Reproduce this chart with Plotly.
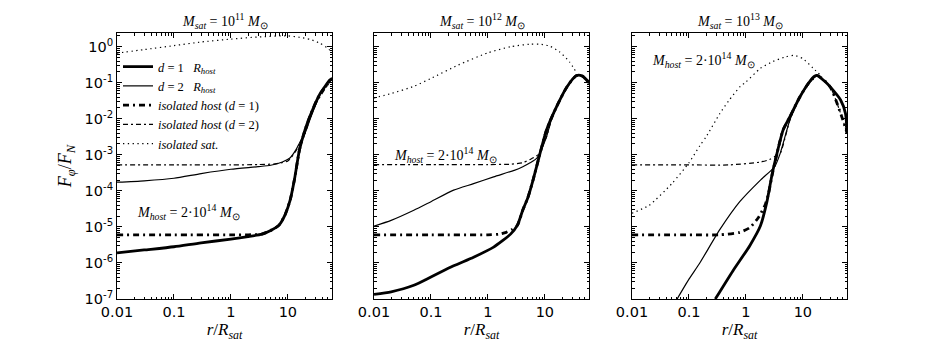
import numpy as np
import plotly.graph_objects as go

# values, F_phi/F_N given as log10
# panel 1: M_sat = 1e11
p1_sat_r = [0.01, 0.03, 0.1, 0.3, 1, 3, 10, 16, 25, 36, 48, 60]
p1_sat_f = [-0.18, -0.08, 0.03, 0.13, 0.21, 0.27, 0.3, 0.26, 0.2, 0.1, -0.02, -0.16]
p1_d1_r = [0.01, 0.03, 0.1, 0.3, 1, 2, 3.5, 5, 7, 9, 11, 13, 16, 20, 25, 36, 55, 60]
p1_d1_f = [-5.72, -5.64, -5.55, -5.44, -5.34, -5.27, -5.2, -5.1, -4.95, -4.65, -4.25, -3.7, -2.86, -2.31, -1.89, -1.33, -0.92, -0.88]
p1_d2_r = [0.01, 0.03, 0.1, 0.3, 1, 3, 5, 8, 11, 14, 16, 20, 25, 36, 55, 60]
p1_d2_f = [-3.76, -3.72, -3.65, -3.52, -3.4, -3.33, -3.29, -3.2, -3.08, -2.85, -2.67, -2.4, -1.98, -1.36, -0.92, -0.88]
p1_h1_r = [0.01, 0.1, 1, 2, 3.5, 5, 7, 9, 11, 13, 16, 20, 25, 36, 60]
p1_h1_f = [-5.22, -5.22, -5.22, -5.22, -5.2, -5.1, -4.95, -4.65, -4.25, -3.7, -2.86, -2.31, -1.89, -1.33, -0.88]
p1_h2_r = [0.01, 0.1, 1, 3, 6, 10, 14, 20, 30, 60]
p1_h2_f = [-3.28, -3.28, -3.28, -3.27, -3.25, -3.17, -2.88, -2.4, -1.62, -0.88]

# panel 2: M_sat = 1e12
p2_sat_r = [0.01, 0.02, 0.05, 0.1, 0.3, 1, 2.5, 5.5, 8, 12, 18, 27, 36]
p2_sat_f = [-1.42, -1.3, -1.1, -0.88, -0.51, -0.17, 0.0, 0.07, 0.07, 0.02, -0.14, -0.42, -0.72]
p2_d1_r = [0.01, 0.02, 0.05, 0.1, 0.25, 0.56, 1.26, 2.5, 3.3, 4.1, 5, 6.2, 8.1, 10.7, 16, 24.5, 36, 45, 60]
p2_d1_f = [-6.87, -6.8, -6.62, -6.39, -6.08, -5.84, -5.56, -5.2, -4.95, -4.53, -4.2, -3.7, -3.0, -2.31, -1.67, -1.11, -0.8, -0.81, -1.0]
p2_d2_r = [0.01, 0.02, 0.05, 0.1, 0.25, 0.56, 1.26, 2.9, 4.1, 5.5, 7.2, 8.1, 10.7, 13, 16, 24.5, 36, 45, 60]
p2_d2_f = [-4.98, -4.82, -4.54, -4.3, -3.98, -3.8, -3.61, -3.43, -3.33, -3.22, -3.1, -2.96, -2.5, -2.03, -1.67, -1.13, -0.8, -0.82, -1.0]
p2_h1_r = [0.01, 0.1, 1, 1.6, 2.1, 2.6, 3.3, 4.1, 5, 6.2, 8.1, 10.7, 16, 24.5, 36, 45, 60]
p2_h1_f = [-5.22, -5.22, -5.22, -5.2, -5.15, -5.08, -4.95, -4.53, -4.2, -3.7, -3.0, -2.31, -1.67, -1.11, -0.8, -0.81, -1.0]
p2_h2_r = [0.01, 0.1, 1, 2.5, 4, 5.5, 7.5, 10.7, 13, 16, 24.5, 36, 45, 60]
p2_h2_f = [-3.27, -3.27, -3.27, -3.26, -3.22, -3.13, -3.0, -2.5, -2.03, -1.67, -1.13, -0.8, -0.82, -1.0]

# panel 3: M_sat = 1e13
p3_sat_r = [0.01, 0.02, 0.05, 0.1, 0.155, 0.2, 0.35, 0.5, 0.8, 1, 1.8, 3, 5, 7, 10, 15, 20]
p3_sat_f = [-4.62, -4.4, -3.8, -3.22, -2.75, -2.5, -1.85, -1.5, -1.1, -0.98, -0.6, -0.41, -0.28, -0.24, -0.33, -0.59, -0.78]
p3_d1_r = [0.29, 0.59, 1.17, 1.8, 2.34, 2.9, 3.5, 4.5, 5.9, 8.9, 13, 16, 18, 25, 30, 46, 56, 60]
p3_d1_f = [-7.0, -6.22, -5.52, -4.97, -4.3, -3.52, -2.97, -2.31, -1.95, -1.39, -0.98, -0.82, -0.8, -0.98, -1.11, -1.48, -1.85, -2.4]
p3_d2_r = [0.062, 0.1, 0.155, 0.35, 0.78, 1.8, 3.2, 4, 5.9, 8.9, 13, 16, 18, 25, 30, 46, 56, 60]
p3_d2_f = [-7.0, -6.45, -6.0, -5.07, -4.3, -3.7, -3.33, -2.96, -2.04, -1.39, -1.01, -0.83, -0.8, -0.98, -1.11, -1.48, -1.85, -2.4]
p3_h1_r = [0.01, 0.1, 0.35, 0.78, 1.17, 1.66, 2.2, 2.5, 2.9, 3.5, 4.5, 5.9, 8.9, 13, 18, 30, 60]
p3_h1_f = [-5.22, -5.22, -5.22, -5.15, -5.02, -4.74, -4.37, -4.07, -3.55, -2.97, -2.31, -1.95, -1.39, -0.98, -0.8, -1.11, -2.4]
p3_h2_r = [0.01, 0.1, 0.5, 1.8, 2.6, 3.4, 4, 5.9, 8.9, 13, 18, 30, 60]
p3_h2_f = [-3.28, -3.28, -3.28, -3.2, -3.13, -3.02, -2.96, -2.04, -1.39, -1.01, -0.8, -1.11, -2.4]

titles = ["10<sup>11</sup>", "10<sup>12</sup>", "10<sup>13</sup>"]
xticks = [0.01, 0.1, 1, 10]
xticktext = ["0.01", "0.1", "1", "10"]
yticks = [1e-7, 1e-6, 1e-5, 1e-4, 1e-3, 1e-2, 1e-1, 1]
yticktext = ["10<sup>-7</sup>", "10<sup>-6</sup>", "10<sup>-5</sup>", "10<sup>-4</sup>",
             "10<sup>-3</sup>", "10<sup>-2</sup>", "10<sup>-1</sup>", "10<sup>0</sup>"]
# minor ticks at 2..9 of every decade
xminor = [m * 10.0 ** e for e in range(-2, 2) for m in range(2, 10)]
yminor = [m * 10.0 ** e for e in range(-7, 1) for m in range(2, 10)]

panels = [
    (p1_d1_r, p1_d1_f, p1_d2_r, p1_d2_f, p1_h1_r, p1_h1_f, p1_h2_r, p1_h2_f, p1_sat_r, p1_sat_f),
    (p2_d1_r, p2_d1_f, p2_d2_r, p2_d2_f, p2_h1_r, p2_h1_f, p2_h2_r, p2_h2_f, p2_sat_r, p2_sat_f),
    (p3_d1_r, p3_d1_f, p3_d2_r, p3_d2_f, p3_h1_r, p3_h1_f, p3_h2_r, p3_h2_f, p3_sat_r, p3_sat_f),
]

names = ["<i>d</i> = 1   <i>R<sub>host</sub></i>",
         "<i>d</i> = 2   <i>R<sub>host</sub></i>",
         "<i>isolated host</i> (<i>d</i> = 1)",
         "<i>isolated host</i> (<i>d</i> = 2)",
         "<i>isolated sat.</i>"]
styles = [dict(width=2.8, dash="solid"),
          dict(width=1.2, dash="solid"),
          dict(width=2.8, dash="6px,4px,2px,4px"),
          dict(width=1.2, dash="5px,3px,2px,3px"),
          dict(width=1.2, dash="1.3px,3.5px")]
# draw order: dotted and dash-dot below the solid curves
order = [4, 3, 2, 1, 0]

fig = go.Figure()
for i, p in enumerate(panels):
    ax = "" if i == 0 else str(i + 1)
    for k in order:
        r = p[2 * k]
        f = p[2 * k + 1]
        fig.add_trace(go.Scatter(
            x=r, y=10 ** np.array(f), mode="lines", name=names[k],
            line=dict(color="black", shape="spline", smoothing=0.6, **styles[k]),
            xaxis="x" + ax, yaxis="y" + ax,
            showlegend=(i == 0), legendrank=k + 1,
        ))

doms = [(117 / 941, 332 / 941), (374 / 941, 589 / 941), (632 / 941, 847 / 941)]
ydom = [1 - 299 / 345, 1 - 33 / 345]
tickfont = dict(family="DejaVu Sans", size=14.5, color="black")
serif = "Liberation Serif"

layout = dict(
    width=941, height=345,
    margin=dict(l=0, r=0, t=0, b=0, autoexpand=False),
    paper_bgcolor="white", plot_bgcolor="white",
    showlegend=True,
    legend=dict(x=118 / 941, y=1 - 52 / 345, xanchor="left", yanchor="top",
                bgcolor="rgba(0,0,0,0)", font=dict(family=serif, size=12.5, color="black"),
                tracegroupgap=0, itemwidth=30, traceorder="normal"),
)
for i in range(3):
    ax = "" if i == 0 else str(i + 1)
    layout["xaxis" + ax] = dict(
        type="log", domain=doms[i], range=[-2, 1.775], anchor="y" + ax, automargin=False,
        tickvals=xticks, ticktext=xticktext, tickfont=tickfont,
        ticks="inside", ticklen=5, tickcolor="black", showline=True, linecolor="black",
        linewidth=1, mirror="ticks", showgrid=False, zeroline=False,
        minor=dict(tickvals=xminor, ticks="inside", ticklen=2.5, tickcolor="black", showgrid=False),
        title=dict(text="<i>r</i>/<i>R<sub>sat</sub></i>", font=dict(family=serif, size=17, color="black"),
                   standoff=1),
    )
    layout["yaxis" + ax] = dict(
        type="log", domain=ydom, range=[-7, 0.38], anchor="x" + ax, automargin=False,
        tickvals=yticks, ticktext=yticktext, tickfont=tickfont, showticklabels=(i == 0),
        ticks="inside", ticklen=5, tickcolor="black", showline=True, linecolor="black",
        linewidth=1, mirror="ticks", showgrid=False, zeroline=False,
        minor=dict(tickvals=yminor, ticks="inside", ticklen=2.5, tickcolor="black", showgrid=False),
    )
layout["yaxis"]["title"] = dict(text="<i>F<sub>φ</sub></i>/<i>F<sub>N</sub></i>",
                                font=dict(family=serif, size=18, color="black"), standoff=8)
fig.update_layout(**layout)

for i in range(3):
    ax = "" if i == 0 else str(i + 1)
    fig.add_annotation(
        text="<i>M<sub>sat</sub></i> = " + titles[i] + " <i>M</i><sub>⊙</sub>",
        xref="x" + ax + " domain", yref="paper", x=0.5, y=1 - 33 / 345,
        xanchor="center", yanchor="bottom", showarrow=False,
        font=dict(family=serif, size=14, color="black"),
    )

host_text = "<i>M<sub>host</sub></i> = 2·10<sup>14</sup> <i>M</i><sub>⊙</sub>"
host_pos = [(-1.68, -4.58), (-1.68, -3.0), (-1.68, -0.37)]
for i, (hx, hy) in enumerate(host_pos):
    ax = "" if i == 0 else str(i + 1)
    fig.add_annotation(text=host_text, xref="x" + ax, yref="y" + ax, x=hx, y=hy,
                       xanchor="left", yanchor="middle", showarrow=False,
                       font=dict(family=serif, size=14, color="black"))

# page body has a default 8px margin; drop it so the figure sits at the window corner
fig.write_html("out.html", config={"displayModeBar": False},
               post_script="document.body.style.margin='0';")
